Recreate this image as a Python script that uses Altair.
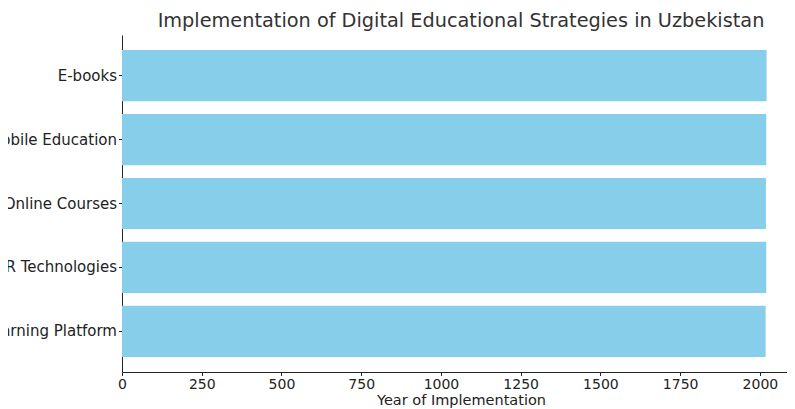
import altair as alt
import pandas as pd

strategies = ["E-learning Platform", "AR/VR Technologies", "Online Courses", "Mobile Education", "E-books"]
years = [2018, 2020, 2019, 2020, 2021]
x_ticks = [0, 250, 500, 750, 1000, 1250, 1500, 1750, 2000]

df = pd.DataFrame({"Strategy": strategies, "Year": years})

FONT = "DejaVu Sans"

chart = alt.Chart(df).mark_bar(color="#87CEEB").encode(
    x=alt.X(
        "Year:Q",
        scale=alt.Scale(domain=[0, 2085], nice=False, zero=True),
        axis=alt.Axis(
            values=x_ticks,
            format="d",
            title="Year of Implementation",
            grid=False,
            labelFontSize=14,
            titleFontSize=14.5,
            titleFontWeight="normal",
            titleX=339,
            titleAlign="center",
            tickSize=3.5,
            labelPadding=2,
            titlePadding=2,
            domainColor="#222222",
            tickColor="#222222",
            labelColor="#222222",
            titleColor="#222222",
            labelFont=FONT,
            titleFont=FONT,
            labelFlush=False,
        ),
    ),
    y=alt.Y(
        "Strategy:N",
        sort=list(reversed(strategies)),
        scale=alt.Scale(paddingInner=0.2, paddingOuter=0.235),
        axis=alt.Axis(
            title=None,
            grid=False,
            labelFontSize=15,
            tickSize=3.5,
            labelPadding=2,
            labelLimit=400,
            domainColor="#222222",
            tickColor="#222222",
            labelColor="#222222",
            labelFont=FONT,
        ),
    ),
).properties(
    width=665,
    height=337,
    autosize=alt.AutoSizeParams(type="none"),
    padding={"left": 114, "top": 27, "right": 0, "bottom": 36},
    title=alt.TitleParams(
        text="Implementation of Digital Educational Strategies in Uzbekistan",
        fontSize=19.3,
        font=FONT,
        fontWeight="normal",
        color="#333333",
        anchor="middle",
        frame="group",
        baseline="alphabetic",
        offset=8,
        dx=6.5,
        dy=19,
    ),
).configure_view(stroke=None)

chart.save("out.html", embed_options={"renderer": "svg", "actions": False})
